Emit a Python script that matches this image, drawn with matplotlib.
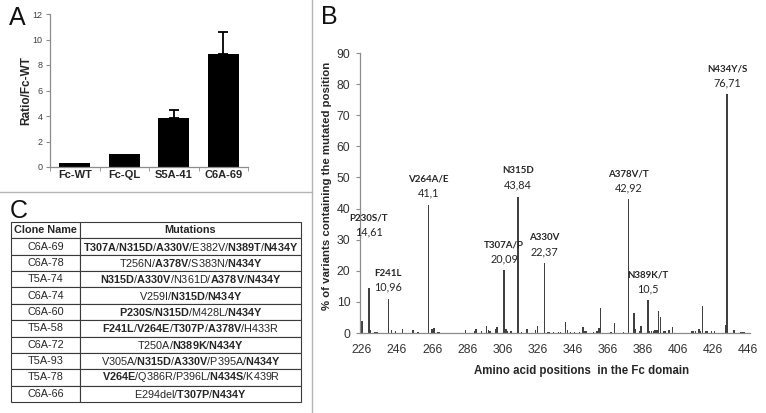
import matplotlib
matplotlib.use("Agg")
import matplotlib.pyplot as plt
from matplotlib.lines import Line2D
import numpy as np

plt.rcParams['font.family'] = ['Liberation Sans', 'DejaVu Sans']
plt.rcParams['mathtext.fontset'] = 'custom'
plt.rcParams['mathtext.rm'] = 'Liberation Sans'
plt.rcParams['mathtext.bf'] = 'Liberation Sans:bold'

# ---- panel A data
clones_a = ["Fc-WT", "Fc-QL", "S5A-41", "C6A-69"]
ratio = [0.3, 1.0, 3.85, 8.9]
ratio_err = [0, 0, 0.65, 1.65]

# ---- panel B data
positions = [226, 230, 231, 233, 234, 235, 241, 243, 245, 249, 255, 258,
             264, 266, 267, 269, 270, 285, 290, 291, 294, 297, 298, 299,
             302, 303, 307, 308, 309, 311, 315, 317, 320, 325, 326,
             330, 332, 333, 335, 338, 339, 342, 343, 345, 347, 350,
             352, 353, 354, 358, 360, 361, 362, 368, 370, 375,
             378, 381, 382, 384, 385, 389, 390, 391, 392, 393, 394, 395, 396, 398, 399,
             401, 403, 414, 415, 416, 418, 419, 420, 422, 423, 425, 427,
             433, 434, 438, 442, 443, 444]
percent = [4.0, 14.61, 1.0, 0.4, 0.4, 0.4, 10.96, 1.0, 0.8, 1.2, 1.0, 0.4,
           41.1, 1.3, 1.5, 0.4, 0.4, 1.0, 0.5, 1.3, 0.6, 2.3, 1.0, 0.6,
           1.2, 1.8, 20.09, 1.4, 0.5, 0.5, 43.84, 0.4, 1.2, 1.0, 2.3,
           22.37, 0.4, 0.4, 0.4, 0.4, 0.4, 3.4, 1.0, 0.4, 0.4, 0.4,
           1.8, 0.5, 0.5, 0.4, 0.7, 1.5, 8.0, 0.4, 3.1, 0.3,
           42.92, 6.3, 1.2, 0.5, 2.1, 10.5, 0.5, 0.8, 0.5, 1.0, 1.0, 7.1, 5.0, 0.5, 0.7,
           1.0, 1.8, 0.8, 0.8, 0.8, 1.2, 0.8, 8.6, 0.5, 0.5, 0.8, 0.5,
           2.5, 76.71, 1.0, 0.4, 0.4, 0.4]
assert len(positions) == len(percent)

hot_pos = [230, 241, 264, 307, 315, 330, 378, 389, 434]
hot_names = ["P230S/T", "F241L", "V264A/E", "T307A/P", "N315D", "A330V",
             "A378V/T", "N389K/T", "N434Y/S"]
b_ticks = list(range(226, 447, 20))

# ---- panel C data
clone_names = ["C6A-69", "C6A-78", "T5A-74", "C6A-74", "C6A-60",
               "T5A-58", "C6A-72", "T5A-93", "T5A-78", "C6A-66"]
mutations = ["T307A/N315D/A330V/E382V/N389T/N434Y",
             "T256N/A378V/S383N/N434Y",
             "N315D/A330V/N361D/A378V/N434Y",
             "V259I/N315D/N434Y",
             "P230S/N315D/M428L/N434Y",
             "F241L/V264E/T307P/A378V/H433R",
             "T250A/N389K/N434Y",
             "V305A/N315D/A330V/P395A/N434Y",
             "V264E/Q386R/P396L/N434S/K439R",
             "E294del/T307P/N434Y"]

W, H = 766, 413
fig = plt.figure(figsize=(W / 100, H / 100), dpi=100)
axis_gray = '#8c8c8c'
txt = '#262626'


def px_axes(left, top, right, bottom):
    return [left / W, 1 - bottom / H, (right - left) / W, (bottom - top) / H]


# ---------------- A
ax_a = fig.add_axes(px_axes(50, 14, 248, 167))
xa = np.arange(len(clones_a))
ax_a.bar(xa, ratio, width=0.63, color='black')
err = np.array(ratio_err)
m = err > 0
ax_a.errorbar(xa[m], np.array(ratio)[m], yerr=[np.zeros(m.sum()), err[m]],
              fmt='none', ecolor='black', elinewidth=1.3, capsize=3.5, capthick=1.3)
ax_a.set_xlim(-0.5, 3.5)
ax_a.set_ylim(0, 12)
ax_a.set_yticks(range(0, 13, 2))
ax_a.set_xticks(xa)
ax_a.set_xticklabels(clones_a, fontweight='bold', fontsize=8, color=txt)
ax_a.set_xticks(np.arange(-0.5, 4, 1), minor=True)
ax_a.tick_params(axis='x', which='major', length=0, pad=2.5)
ax_a.tick_params(axis='x', which='minor', length=3, color=axis_gray)
ax_a.tick_params(axis='y', length=3, color=axis_gray, labelsize=6.5,
                 labelcolor='#404040', pad=2.5)
for s in ['top', 'right']:
    ax_a.spines[s].set_visible(False)
for s in ['left', 'bottom']:
    ax_a.spines[s].set_color(axis_gray)
    ax_a.spines[s].set_linewidth(0.9)
ax_a.set_ylabel("Ratio/Fc-WT", fontweight='bold', fontsize=8.5, color=txt)
ax_a.yaxis.set_label_coords(-0.09, 0.5)

# ---------------- B
ax_b = fig.add_axes(px_axes(360, 53, 750, 333))
ax_b.bar(positions, percent, width=0.8, color='#404040', linewidth=0)
ax_b.set_xlim(224.9, 447.1)
ax_b.set_ylim(0, 90)
ax_b.set_yticks(range(0, 91, 10))
ax_b.set_xticks(b_ticks)
ax_b.tick_params(axis='x', length=0, pad=8, labelsize=8.8, labelcolor='#333333')
ax_b.tick_params(axis='y', length=3, color=axis_gray, labelsize=8.8,
                 labelcolor='#333333', pad=4)
for s in ['top', 'right']:
    ax_b.spines[s].set_visible(False)
for s in ['left', 'bottom']:
    ax_b.spines[s].set_color(axis_gray)
    ax_b.spines[s].set_linewidth(0.9)
ax_b.set_ylabel("% of variants containing the mutated position",
                fontweight='bold', fontsize=8.2, color=txt)
ax_b.yaxis.set_label_coords(-0.072, 0.525)
ax_b.set_xlabel("Amino acid positions  in the Fc domain",
                fontweight='bold', fontsize=8.3, color=txt)
ax_b.xaxis.set_label_coords(0.567, -0.115)

val_at = dict(zip(positions, percent))
for p, name in zip(hot_pos, hot_names):
    v = val_at[p]
    lift = 14 if p == 230 else 0
    ax_b.text(p, v + 8.3 + lift, name, ha='center', va='center',
              fontsize=7, fontweight='bold', family=['Lato', 'DejaVu Sans'], color=txt)
    ax_b.text(p, v + 3.8 + lift, f"{v:g}".replace('.', ','), ha='center', va='center',
              fontsize=7.8, family=['Lato', 'DejaVu Sans'], color=txt)

# ---------------- C
ax_c = fig.add_axes(px_axes(11, 222, 301, 402))
ax_c.axis('off')


def mut_text(s):
    parts = []
    for mtn in s.split('/'):
        num = int(''.join(ch for ch in mtn if ch.isdigit()))
        if num in hot_pos:
            parts.append(r"\mathbf{%s}" % mtn)
        else:
            parts.append(r"\mathrm{%s}" % mtn)
    return "$" + r"\mathrm{/}".join(parts) + "$"


cells = [["Clone Name", "Mutations"]] + [[c, mut_text(mu)] for c, mu in zip(clone_names, mutations)]
tbl = ax_c.table(cellText=cells, colWidths=[69 / 290, 221 / 290], cellLoc='center',
                 bbox=[0, 0, 1, 1])
tbl.auto_set_font_size(False)
tbl.set_fontsize(7.8)
for (r, c), cell in tbl.get_celld().items():
    cell.set_edgecolor('#3a3a3a')
    cell.set_linewidth(0.8)
    cell.get_text().set_color(txt)
    if r == 0:
        cell.get_text().set_fontweight('bold')

# ---------------- panel letters & separators
fig.text(9 / W, 1 - 6 / H, "A", fontsize=18, va='top', ha='left', color='#111111')
fig.text(321 / W, 1 - 5 / H, "B", fontsize=18, va='top', ha='left', color='#111111')
fig.text(10 / W, 1 - 199 / H, "C", fontsize=18, va='top', ha='left', color='#111111')
fig.add_artist(Line2D([0, 312 / W], [1 - 192 / H] * 2, color='#b4b4b4', lw=1,
                      transform=fig.transFigure))
fig.add_artist(Line2D([312 / W] * 2, [0, 1], color='#b4b4b4', lw=1,
                      transform=fig.transFigure))

fig.savefig("out.png", dpi=100)
